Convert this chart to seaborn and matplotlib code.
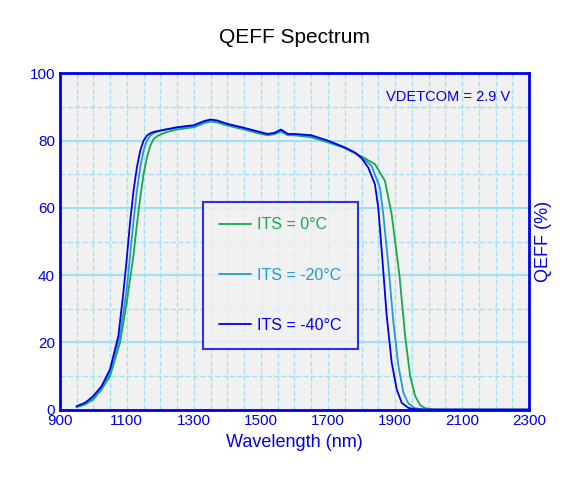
import matplotlib
matplotlib.use("Agg")
import matplotlib.pyplot as plt
import seaborn as sns
import pandas as pd
from matplotlib.ticker import MultipleLocator

wl_m40 = [950,975,1000,1025,1050,1075,1090,1100,1110,1120,1130,1140,1150,1160,1170,1180,1200,1250,1300,1330,1350,1370,1400,1450,1500,1520,1540,1560,1580,1600,1650,1700,1750,1780,1800,1820,1840,1850,1862,1875,1890,1905,1920,1940,1960,2000,2300]
qe_m40 = [1,2,4,7,12,22,35,45,56,65,72,77,80,81.5,82.2,82.6,83,84,84.6,85.8,86.3,86,85,83.8,82.5,82,82.3,83.3,82,82,81.6,80,78,76.5,74.8,72,67,60,45,28,14,6,2,0.5,0.1,0,0]
wl_m20 = [950,975,1000,1025,1050,1080,1100,1110,1120,1130,1140,1150,1160,1170,1180,1190,1210,1250,1300,1330,1350,1370,1400,1450,1500,1520,1540,1560,1580,1600,1650,1700,1750,1780,1800,1830,1855,1865,1880,1895,1910,1925,1940,1960,1980,2010,2300]
qe_m20 = [0.8,1.7,3.5,6.5,11,22,36,46,56,65,72,77,80,81.5,82.2,82.6,83.2,83.8,84.3,85.5,86,85.7,84.8,83.5,82.3,81.8,82.1,83,81.8,81.8,81.3,79.8,77.8,76.3,75,72.5,66,58,43,26,13,5,1.8,0.4,0.1,0,0]
wl_0 = [950,975,1000,1025,1050,1080,1100,1120,1130,1140,1150,1160,1170,1180,1190,1200,1220,1250,1300,1330,1350,1370,1400,1450,1500,1520,1540,1560,1580,1600,1650,1700,1750,1780,1800,1840,1870,1890,1913,1930,1945,1960,1975,1990,2010,2030,2300]
qe_0 = [0.7,1.5,3,6,10,20,32,46,55,63,70,75,78.5,80.5,81.3,81.8,82.6,83.3,84,85.2,85.7,85.4,84.5,83.3,82,81.6,81.9,82.7,81.6,81.6,81,79.5,77.8,76.3,75.3,73,68,58,40,22,10,4,1.3,0.4,0.1,0,0]

labels = ["ITS = 0°C", "ITS = -20°C", "ITS = -40°C"]
colors = ["#14a84a", "#1f9bd1", "#0000e6"]

df = pd.concat([
    pd.DataFrame({"wl": wl_0, "qe": qe_0, "s": labels[0]}),
    pd.DataFrame({"wl": wl_m20, "qe": qe_m20, "s": labels[1]}),
    pd.DataFrame({"wl": wl_m40, "qe": qe_m40, "s": labels[2]}),
])

sns.set_style("white")
plt.rcParams['font.family'] = ['Liberation Sans', 'DejaVu Sans']
fig, ax = plt.subplots(figsize=(5.69, 4.83), dpi=100)
fig.subplots_adjust(left=0.105, right=0.93, top=0.848, bottom=0.152)
ax.set_facecolor("#f1f1f1")
sns.lineplot(data=df, x="wl", y="qe", hue="s", palette=colors, ax=ax, lw=1.3, sort=False, estimator=None)
ax.set_xlim(900, 2300); ax.set_ylim(0, 100)
ax.set_xticks(range(900, 2301, 200))
ax.xaxis.set_minor_locator(MultipleLocator(50))
ax.yaxis.set_major_locator(MultipleLocator(20)); ax.yaxis.set_minor_locator(MultipleLocator(10))
ax.grid(which="major", axis="y", color="#9fe0f5", lw=1.5, ls="-")
ax.grid(which="minor", axis="y", color="#9fe0f5", lw=1, ls="--")
ax.grid(which="both", axis="x", color="#9fe0f5", lw=1, ls="--")
ax.set_axisbelow(True)
for sp in ax.spines.values():
    sp.set_color("#0000e6"); sp.set_linewidth(2)
ax.tick_params(which="both", length=0, labelcolor="#0000e6", labelsize=11)
ax.set_xlabel("Wavelength (nm)", color="#0000e6", fontsize=13)
ax.set_ylabel("QEFF (%)", color="#0000e6", fontsize=13)
ax.yaxis.set_label_position("right")
ax.set_title("QEFF Spectrum", fontsize=15, pad=22, color="black")
ax.text(0.96, 0.93, "VDETCOM = 2.9 V", transform=ax.transAxes, ha="right", va="center", color="#0000e6", fontsize=10.5)
leg = ax.legend(loc="center", bbox_to_anchor=(0.47, 0.4), frameon=True, fontsize=11.5, labelspacing=2.2,
                borderpad=1.0, handlelength=2.0, handletextpad=0.4, fancybox=False,
                facecolor="#f1f1f1", edgecolor="#0000e6")
leg.get_frame().set_linewidth(1.5)
for t, c in zip(leg.get_texts(), colors):
    t.set_color(c)
fig.savefig("out.png", dpi=100)
